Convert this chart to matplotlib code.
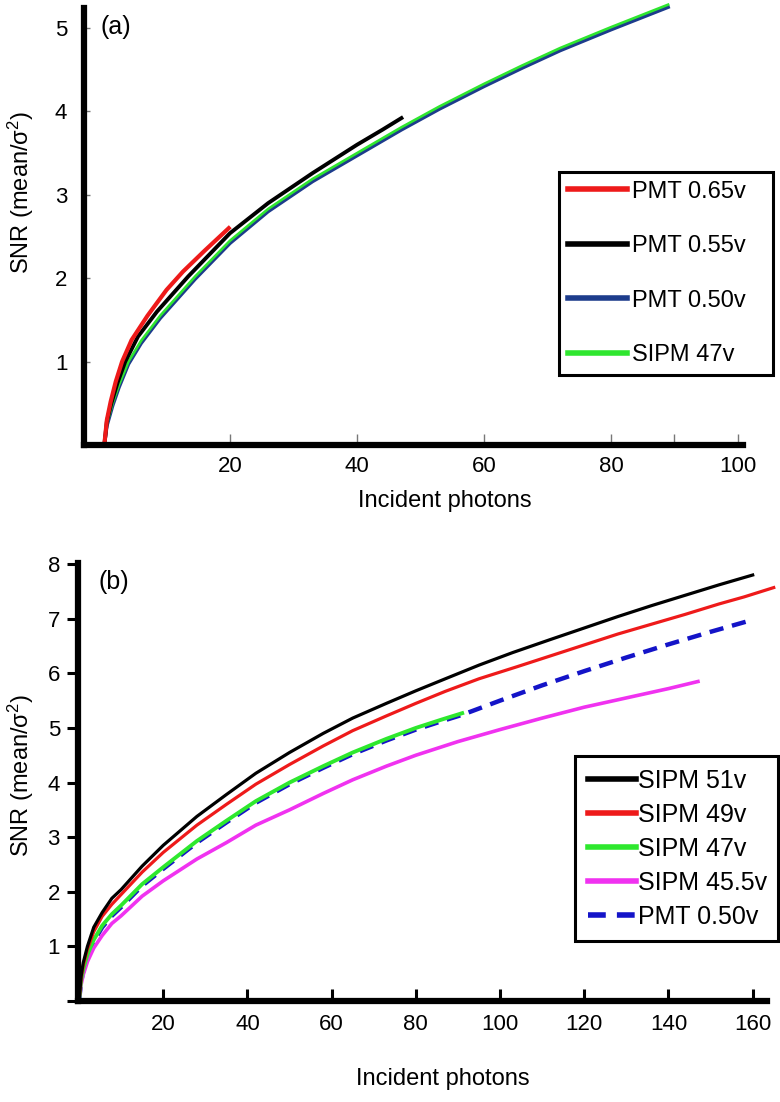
import numpy as np
from matplotlib import pyplot as plt

plt.rcParams['font.family'] = ['Liberation Sans', 'DejaVu Sans']
plt.rcParams['mathtext.fontset'] = 'custom'
plt.rcParams['mathtext.rm'] = 'Liberation Sans'
plt.rcParams['mathtext.it'] = 'Liberation Sans:italic'

W, H = 780, 1102

# ---- panel (a) data ----
a_pmt065_x = [0.2, 0.6, 1.2, 2.0, 3.0, 4.5, 7, 10, 12.6, 16, 19.8]
a_pmt065_y = [0, 0.30, 0.52, 0.76, 1.0, 1.26, 1.55, 1.86, 2.08, 2.33, 2.60]

a_pmt055_x = [0.2, 0.6, 1.3, 2.3, 3.5, 5.5, 8.5, 13.4, 20, 26, 33, 40, 44, 47]
a_pmt055_y = [0, 0.28, 0.50, 0.75, 1.0, 1.30, 1.60, 2.02, 2.54, 2.90, 3.26, 3.60, 3.78, 3.92]

a_pmt050_x = [0.2, 0.6, 1.5, 2.5, 4, 6, 9, 14.5, 20, 26, 33, 40, 47, 53, 60, 66, 72, 80, 85, 89]
a_pmt050_y = [0, 0.23, 0.47, 0.69, 0.97, 1.22, 1.52, 1.99, 2.42, 2.80, 3.16, 3.47, 3.78, 4.03, 4.30, 4.52, 4.73, 4.98, 5.13, 5.25]

a_sipm47_x = [0.2, 0.6, 1.5, 2.5, 4, 6, 9, 14.5, 20, 26, 33, 40, 47, 53, 60, 66, 72, 80, 85, 89]
a_sipm47_y = [0, 0.25, 0.50, 0.72, 1.0, 1.25, 1.55, 2.02, 2.45, 2.83, 3.19, 3.50, 3.81, 4.06, 4.33, 4.55, 4.76, 5.01, 5.16, 5.28]

a_labels = ['PMT 0.65v', 'PMT 0.55v', 'PMT 0.50v', 'SIPM 47v']

# ---- panel (b) data ----
b_sipm51_x = [0, 0.5, 1, 2, 3.5, 5.5, 7.8, 10, 15, 20, 28, 35, 42, 50, 58, 65, 73, 80, 87, 95, 103, 112, 120, 128, 136, 144, 152, 160]
b_sipm51_y = [0, 0.45, 0.70, 1.0, 1.35, 1.62, 1.88, 2.04, 2.47, 2.85, 3.38, 3.78, 4.17, 4.55, 4.90, 5.18, 5.45, 5.68, 5.90, 6.15, 6.38, 6.62, 6.83, 7.04, 7.24, 7.43, 7.62, 7.80]

b_sipm49_x = [0, 0.5, 1, 2, 3.5, 5.5, 7.8, 10, 15, 20, 28, 35, 42, 50, 58, 65, 73, 80, 87, 95, 104, 112, 120, 128, 136, 144, 152, 158, 165]
b_sipm49_y = [0, 0.42, 0.65, 0.95, 1.27, 1.55, 1.77, 1.95, 2.36, 2.72, 3.22, 3.60, 3.97, 4.33, 4.67, 4.95, 5.22, 5.45, 5.67, 5.90, 6.12, 6.32, 6.52, 6.72, 6.90, 7.08, 7.27, 7.40, 7.57]

b_sipm47_x = [0, 0.5, 1, 2, 3.5, 5.5, 7.8, 10, 15, 20, 28, 35, 42, 50, 58, 65, 73, 80, 86, 91]
b_sipm47_y = [0, 0.38, 0.58, 0.85, 1.12, 1.38, 1.59, 1.75, 2.14, 2.45, 2.93, 3.30, 3.66, 4.00, 4.30, 4.55, 4.80, 5.00, 5.15, 5.27]

b_sipm455_x = [0, 0.5, 1, 2, 3.5, 5.5, 7.8, 10, 15, 20, 28, 35, 42, 50, 58, 65, 73, 80, 90, 100, 110, 120, 130, 140, 147]
b_sipm455_y = [0, 0.30, 0.48, 0.72, 0.97, 1.20, 1.42, 1.56, 1.92, 2.20, 2.60, 2.90, 3.22, 3.50, 3.80, 4.05, 4.30, 4.50, 4.75, 4.97, 5.18, 5.38, 5.55, 5.72, 5.85]

b_pmt050_x = [0, 0.5, 1, 2, 3.5, 5.5, 7.8, 10, 15, 20, 28, 35, 42, 50, 58, 65, 73, 80, 86, 91, 100, 110, 120, 130, 140, 150, 160]
b_pmt050_y = [0, 0.35, 0.55, 0.82, 1.09, 1.35, 1.56, 1.72, 2.11, 2.42, 2.90, 3.27, 3.63, 3.97, 4.27, 4.52, 4.77, 4.97, 5.12, 5.24, 5.50, 5.78, 6.04, 6.29, 6.53, 6.76, 6.98]

b_labels = ['SIPM 51v', 'SIPM 49v', 'SIPM 47v', 'SIPM 45.5v', 'PMT 0.50v']

ylabel = 'SNR (mean/σ$^{2}$)'


def px_axes(fig, l, t, r, b):
    return fig.add_axes([l / W, 1 - b / H, (r - l) / W, (b - t) / H])


def style_axes(ax):
    for s in ['top', 'right']:
        ax.spines[s].set_visible(False)
    for s in ['left', 'bottom']:
        ax.spines[s].set_linewidth(4.5)
        ax.spines[s].set_color('black')


fig = plt.figure(figsize=(W / 100, H / 100), dpi=100)

# ---------------- (a) ----------------
ax = px_axes(fig, 84, 8, 743, 445)
style_axes(ax)
ax.plot(a_pmt050_x, a_pmt050_y, color='#1d3c8c', lw=2.6, label=a_labels[2], clip_on=False)
ax.plot(a_sipm47_x, a_sipm47_y, color='#2fe62f', lw=1.9, label=a_labels[3], clip_on=False)
ax.plot(a_pmt055_x, a_pmt055_y, color='black', lw=2.8, label=a_labels[1])
ax.plot(a_pmt065_x, a_pmt065_y, color='#ee1a1a', lw=3.0, label=a_labels[0])
ax.set_xlim(-3.0, 100.8)
ax.set_ylim(0, 5.24)
ax.set_xticks([20, 40, 60, 80, 90, 100])
ax.set_xticklabels(['20', '40', '60', '80', '', '100'])
ax.set_yticks([1, 2, 3, 4, 5])
ax.tick_params(axis='x', direction='in', length=8, width=1.0, color='#777777',
               labelsize=16, pad=8)
ax.tick_params(axis='y', direction='in', length=4, width=1.0, color='#777777',
               labelsize=16, pad=12)
ax.text(0.025, 0.985, '(a)', transform=ax.transAxes, fontsize=18, va='top', ha='left')
h, l = ax.get_legend_handles_labels()
order = [3, 2, 0, 1]
leg = ax.legend([h[i] for i in order], [l[i] for i in order],
                loc='upper left', mode='expand', borderaxespad=0,
                bbox_to_anchor=(559 / W, 1 - 172 / H, (773 - 559) / W, 0),
                bbox_transform=fig.transFigure, fontsize=17, handlelength=2.5,
                handletextpad=0.25, labelspacing=1.38, borderpad=0.36,
                fancybox=False, framealpha=1, edgecolor='black')
leg.get_frame().set_linewidth(2.2)
for ln in leg.get_lines():
    ln.set_linewidth(4)
fig.text(445 / W, 1 - 501 / H, 'Incident photons', fontsize=17, ha='center', va='center')
fig.text(21 / W, 1 - 192 / H, ylabel, fontsize=17, ha='center', va='center', rotation=90)

# ---------------- (b) ----------------
bx = px_axes(fig, 78, 563, 767, 1001)
style_axes(bx)
bx.plot(b_pmt050_x, b_pmt050_y, color='#1414c8', lw=3.2, dashes=(3.2, 2.0), label=b_labels[4])
bx.plot(b_sipm455_x, b_sipm455_y, color='#f032f0', lw=2.6, label=b_labels[3])
bx.plot(b_sipm47_x, b_sipm47_y, color='#2ee82e', lw=2.8, label=b_labels[2])
bx.plot(b_sipm49_x, b_sipm49_y, color='#ee1a1a', lw=2.3, label=b_labels[1], clip_on=False)
bx.plot(b_sipm51_x, b_sipm51_y, color='black', lw=2.3, label=b_labels[0])
bx.set_xlim(-0.24, 163.4)
bx.set_ylim(0, 8.02)
bx.set_xticks([20, 40, 60, 80, 100, 120, 140, 160])
bx.set_yticks(range(0, 9))
bx.set_yticklabels([''] + [str(i) for i in range(1, 9)])
bx.tick_params(axis='x', direction='in', length=9, width=2.2, labelsize=16, pad=9)
bx.tick_params(axis='y', direction='out', length=8, width=2.2, labelsize=16, pad=5)
bx.text(0.03, 0.985, '(b)', transform=bx.transAxes, fontsize=18, va='top', ha='left')
h, l = bx.get_legend_handles_labels()
order = [4, 3, 2, 1, 0]
leg = bx.legend([h[i] for i in order], [l[i] for i in order],
                loc='upper left', mode='expand', borderaxespad=0,
                bbox_to_anchor=(575 / W, 1 - 756 / H, (778 - 575) / W, 0),
                bbox_transform=fig.transFigure, fontsize=18, handlelength=1.92,
                handletextpad=0.08, labelspacing=0.4, borderpad=0.5,
                fancybox=False, framealpha=1, edgecolor='black')
leg.get_frame().set_linewidth(2.2)
for ln in leg.get_lines():
    ln.set_linewidth(4)
fig.text(443 / W, 1 - 1079 / H, 'Incident photons', fontsize=17, ha='center', va='center')
fig.text(21 / W, 1 - 775 / H, ylabel, fontsize=17, ha='center', va='center', rotation=90)

fig.savefig('out.png', dpi=100)
